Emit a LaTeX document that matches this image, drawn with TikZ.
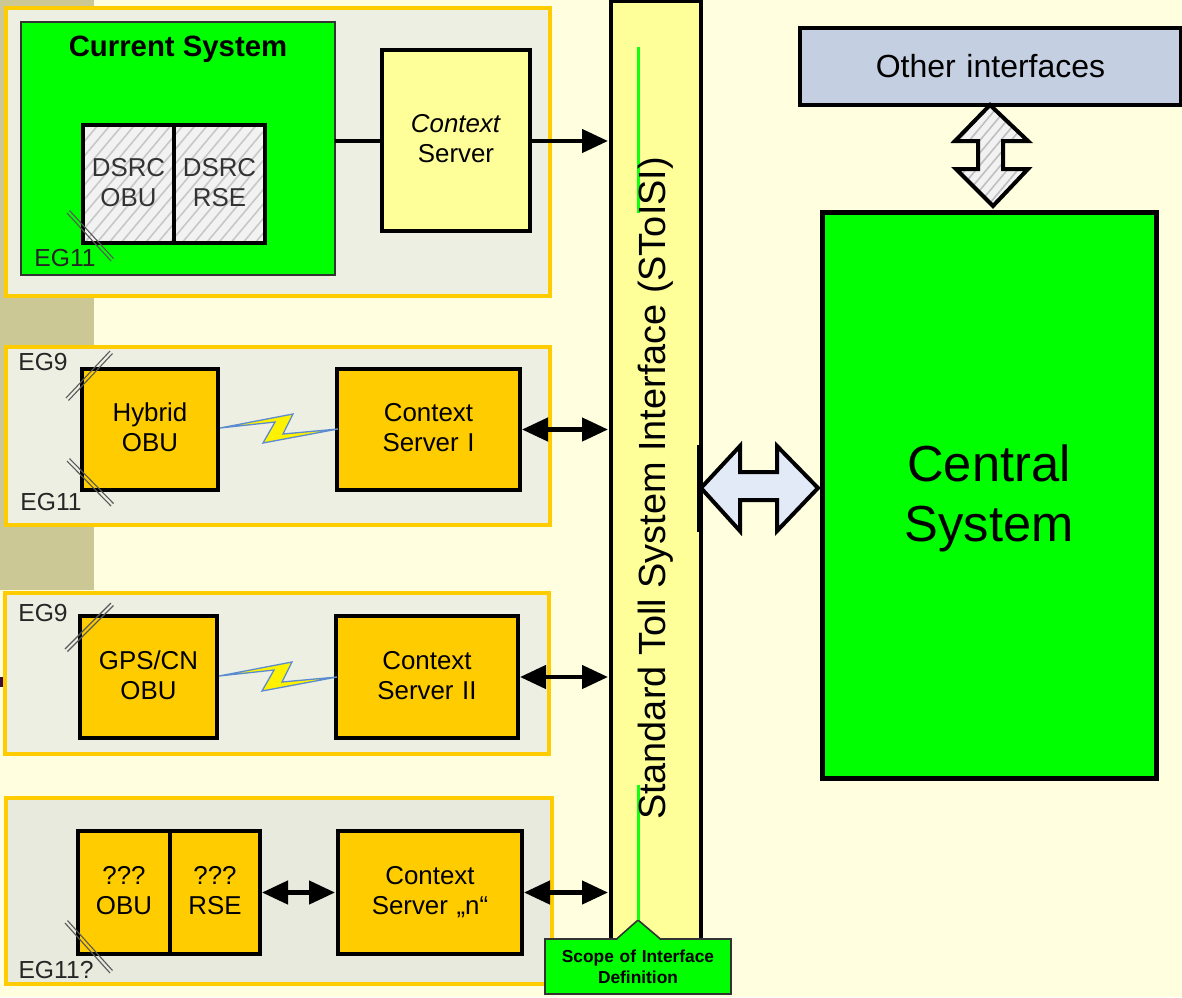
\documentclass[tikz,border=0pt]{standalone}
\usepackage{fontspec}
\setmainfont{Liberation Sans}
\usetikzlibrary{arrows.meta,patterns.meta}
\definecolor{pagebg}{HTML}{FFFFE0}
\definecolor{band}{HTML}{CCC896}
\definecolor{panelbg}{HTML}{EEEFE3}
\definecolor{panelbgb}{HTML}{E8EADE}
\definecolor{panelrim}{HTML}{FFCC00}
\definecolor{obu}{HTML}{FFCC00}
\definecolor{cyellow}{HTML}{FFFF99}
\definecolor{green1}{HTML}{00FF00}
\definecolor{greyblue}{HTML}{C5CFE2}
\definecolor{paleblue}{HTML}{E3EAF7}
\definecolor{zapblue}{HTML}{5B8BD0}
\definecolor{darkmark}{HTML}{3A0A3A}
\definecolor{scopegreen}{HTML}{11FF11}
\def\uu{0.75pt}
\newcommand\lifttext{\rule[-3pt]{0pt}{3pt}}
\tikzset{
  boxbase/.style={inner sep=0pt,outer sep=0pt,align=center,font=\fontsize{19.4}{22.5}\selectfont},
  panel/.style={boxbase,draw=panelrim,line width=4*\uu,fill=panelbg},
  orange box/.style={boxbase,draw=black,line width=4*\uu,fill=obu},
  hatch box/.style={boxbase,draw=black,line width=4*\uu,text=black!80,
    preaction={fill=black!5},
    preaction={pattern={Lines[angle=50,distance=7pt,line width=1.2pt]},pattern color=black!22}},
  yellow box/.style={boxbase,draw=black,line width=4*\uu,fill=cyellow},
  green box/.style={boxbase,draw=black!80,line width=1.6*\uu,fill=green1},
  link/.style={line width=4.5*\uu,{Triangle[length=26*\uu,width=23*\uu]}-{Triangle[length=26*\uu,width=23*\uu]},shorten >=3*\uu,shorten <=2*\uu},
  oneway/.style={line width=4.5*\uu,-{Triangle[length=26*\uu,width=23*\uu]},shorten >=3*\uu},
  plainline/.style={line width=4*\uu},
  slashline/.style={draw=black!65,line width=1.1*\uu},
  eglabel/.style={inner sep=0pt,font=\fontsize{18.5}{22}\selectfont,text=black!85},
  zap/.style={draw=zapblue,line width=1.3*\uu,fill=yellow,line join=miter},
  scopeline/.style={draw=scopegreen,line width=3*\uu},
  fatarrow/.style={draw=black,line width=4*\uu,line join=miter},
}
\newcommand\rnode[6][]{%
  \pgfmathsetmacro\cenx{(#3+#5)/2}\pgfmathsetmacro\ceny{(#4+#6)/2}%
  \pgfmathsetmacro\boxw{(#5-#3)*0.75}\pgfmathsetmacro\boxh{(#6-#4)*0.75}%
  \node[#1,minimum width=\boxw pt,minimum height=\boxh pt,text width=\boxw pt] (#2) at (\cenx,\ceny)}
% #5 = +1 for a mark falling to the right, -1 for one rising to the right
\newcommand\slashmark[5]{%
  \draw[slashline] (#1,#2) -- (#3,#4);
  \draw[slashline,xshift=2.5*\uu,yshift=#5*2.5*\uu] (#1,#2) -- (#3,#4);}
\newcommand\zapat[2]{%
  \begin{scope}[shift={(#1,#2)}]
  \draw[zap] (220,428) -- (293,414) -- (283,434) -- (338,429) -- (263,443) -- (275,422) -- cycle;
  \end{scope}}
\begin{document}
\begin{tikzpicture}[x=0.75pt,y=-0.75pt]
\useasboundingbox (0,0) rectangle (1182,997);
\fill[pagebg] (0,0) rectangle (1182,997);
\fill[band] (0,0) rectangle (94,590);
\fill[darkmark] (0,677) rectangle (3,687);

% interface bus
\rnode[yellow box]{bus}{611}{1}{701}{945}{};
\draw[scopeline] (638,47) -- (638,213);
\coordinate (scopeTop) at (638,785);

% panels
\rnode[panel]{panelA}{6}{8}{550}{296}{};
\rnode[panel]{panelB}{6}{347}{550}{525}{};
\rnode[panel]{panelC}{5}{593}{549}{754}{};
\rnode[panel,fill=panelbgb]{panelD}{6}{798}{552}{984}{};

% current system
\rnode[green box]{cur}{21}{22}{335}{275}{};
\node[inner sep=0pt,font=\bfseries\fontsize{22}{26}\selectfont] (curT) at (178,49) {Current System};
\rnode[hatch box]{dsrcO}{83}{125}{174}{243}{DSRC\\OBU\lifttext};
\rnode[hatch box]{dsrcR}{174}{125}{265}{243}{DSRC\\RSE\lifttext};
\rnode[yellow box]{csA}{382}{50}{530}{231}{\textit{Context}\\Server\lifttext};
\slashmark{67}{213}{111}{261}{1}
\node[eglabel] (egA) at (65,258) {EG11};
\coordinate (railA) at (0,141);
\draw[plainline] (csA.west |- railA) -- (cur.east |- railA);
\draw[oneway] (csA.east |- railA) -- (bus.west |- railA);

% hybrid
\rnode[orange box]{hyb}{82}{369}{218}{490}{Hybrid\\OBU\lifttext};
\rnode[orange box]{csB}{337}{369}{520}{490}{Context\\Server I\lifttext};
\slashmark{66}{398}{110}{351}{-1}
\slashmark{67}{461}{111}{506}{1}
\node[eglabel] (egB) at (43,362) {EG9};
\node[eglabel] (egC) at (51,502) {EG11};
\zapat{0}{0}
\draw[link] (csB.east) -- (bus.west |- csB.east);

% gps
\rnode[orange box]{gps}{80}{616}{217}{738}{GPS/CN\\OBU\lifttext};
\rnode[orange box]{csC}{336}{616}{518}{738}{Context\\Server II\lifttext};
\slashmark{65}{649}{111}{603}{-1}
\node[eglabel] (egD) at (43,613) {EG9};
\zapat{-1}{248}
\draw[link] (csC.east) -- (bus.west |- csC.east);

% unknown
\rnode[orange box]{unkO}{78}{831}{170}{954}{???\\OBU\lifttext};
\rnode[orange box]{unkR}{170}{831}{260}{954}{???\\RSE\lifttext};
\rnode[orange box]{csD}{338}{831}{522}{954}{Context\\Server „n“\lifttext};
\slashmark{65}{923}{110}{973}{1}
\node[eglabel] (egE) at (56,970) {EG11?};
\draw[link] (unkR.east |- csD.west) -- (csD.west);
\draw[link] (csD.east) -- (bus.west |- csD.east);

% scope callout
\rnode[green box,font=\bfseries\fontsize{13}{16}\selectfont]{scope}{545}{939}{731}{994}{Scope of Interface\\Definition};
\coordinate (scopeApex) at (638,920);
\draw[green box] (616,939.5) -- (scopeApex) -- (661,939.5);
\fill[green1] (617,940.5) -- (638,922) -- (660,940.5) -- cycle;
\draw[scopeline] (scopeApex) -- (scopeTop);

\node[rotate=90,inner sep=0pt,font=\fontsize{28.4}{32}\selectfont] (busT) at (656,488.5) {Standard Toll System Interface (SToISI)};

% central
\rnode[boxbase,draw=black,line width=3.5*\uu,fill=greyblue,font=\fontsize{24}{28}\selectfont]{other}{800}{28}{1181}{105}{Other interfaces};
\rnode[boxbase,draw=black,line width=5*\uu,fill=green1,font=\fontsize{38}{45}\selectfont]{cen}{822}{212}{1156}{778}{\rule{0pt}{32pt}Central\\System};

% vertical fat arrow
\path[fatarrow,
  preaction={fill=black!5},
  preaction={pattern={Lines[angle=50,distance=6pt,line width=1.2pt]},pattern color=black!25},
  draw]
  (990,105) -- (1028,141) -- (1003,141) -- (1003,169) -- (1028,169) -- (993,206)
  -- (956,169) -- (978,169) -- (978,141) -- (955,141) -- cycle;
% horizontal fat arrow
\draw[fatarrow,fill=paleblue]
  (701,488) -- (740,446) -- (740,472) -- (777,472) -- (777,446) -- (818,488)
  -- (777,531) -- (777,500) -- (740,500) -- (740,531) -- cycle;
\draw[line width=6*\uu] (700,445) -- (700,532);
\end{tikzpicture}
\end{document}
